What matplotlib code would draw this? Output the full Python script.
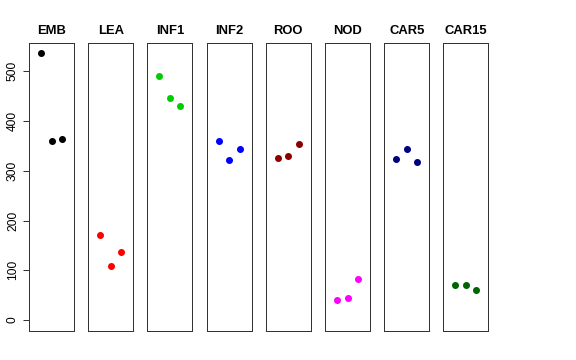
import matplotlib
matplotlib.use("Agg")
import matplotlib.pyplot as plt

plt.rcParams["font.family"] = ["Liberation Sans", "DejaVu Sans"]

# panel names, colours and the three values in each panel
names = ["EMB", "LEA", "INF1", "INF2", "ROO", "NOD", "CAR5", "CAR15"]
colors = ["black", "red", "#00CD00", "blue", "#8B0000", "magenta", "#000080", "#006400"]
emb = [536, 360, 364]
lea = [171, 109, 136]
inf1 = [490, 446, 431]
inf2 = [360, 321, 343]
roo = [325, 329, 354]
nod = [41, 45, 82]
car5 = [324, 343, 317]
car15 = [70, 70, 60]
values = [emb, lea, inf1, inf2, roo, nod, car5, car15]
yticks = [0, 100, 200, 300, 400, 500]

W, H = 576, 360
fig = plt.figure(figsize=(W / 72, H / 72), dpi=72)

left0, step, pw = 29, 59.2, 45
top, bottom = 43, 331
ylim = (-22, 557)

for i, (name, col, vals) in enumerate(zip(names, colors, values)):
    x0 = left0 + i * step
    ax = fig.add_axes([x0 / W, 1 - bottom / H, pw / W, (bottom - top) / H])
    ax.scatter([1, 2, 3], vals, s=49, color=col, linewidths=0, zorder=3)
    ax.set_xlim(-0.16, 4.16)
    ax.set_ylim(*ylim)
    ax.set_xticks([])
    ax.set_title(name, fontsize=13, fontweight="bold", pad=9)
    for s in ax.spines.values():
        s.set_linewidth(1.0)
        s.set_color("#333333")
    if i == 0:
        ax.set_yticks(yticks)
        ax.set_yticklabels([str(t) for t in yticks], rotation=90, va="center", fontsize=12)
        ax.tick_params(axis="y", length=6, width=1.0, color="#333333", pad=4)
    else:
        ax.set_yticks([])

fig.savefig("out.png", dpi=72)
